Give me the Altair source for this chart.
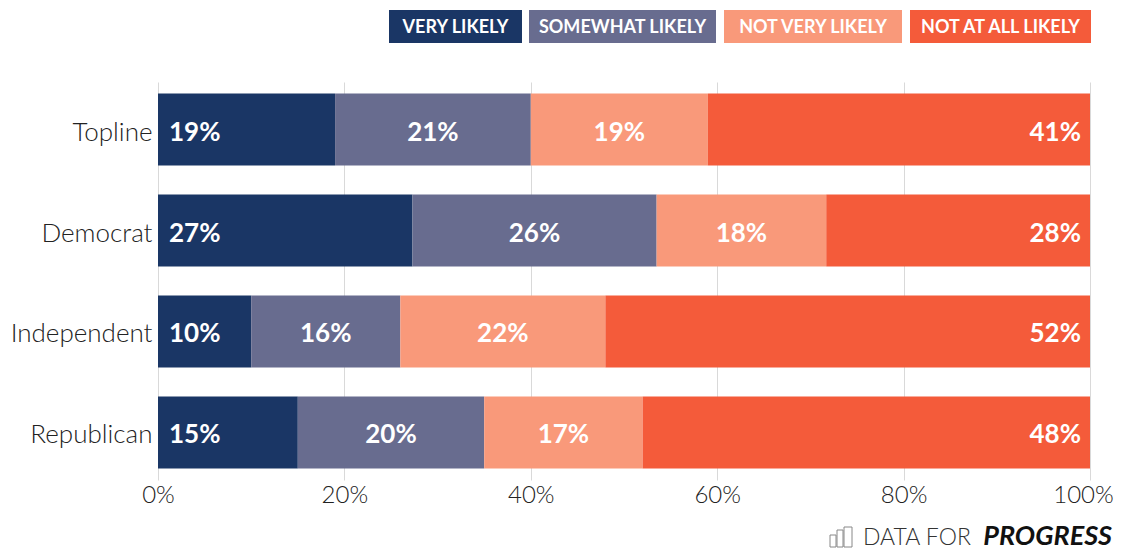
import altair as alt
import pandas as pd

groups = ["Topline", "Democrat", "Independent", "Republican"]
responses = ["VERY LIKELY", "SOMEWHAT LIKELY", "NOT VERY LIKELY", "NOT AT ALL LIKELY"]
colors = ["#1a3665", "#686c8f", "#f9997a", "#f45b3a"]
very = [19, 27.3, 10, 15]
somewhat = [21, 26.2, 16, 20]
notvery = [19, 18.2, 22, 17]
notatall = [41, 28.3, 52, 48]
labels_very = ["19%", "27%", "10%", "15%"]
labels_somewhat = ["21%", "26%", "16%", "20%"]
labels_notvery = ["19%", "18%", "22%", "17%"]
labels_notatall = ["41%", "28%", "52%", "48%"]
ticks = [0, 20, 40, 60, 80, 100]

rows = []
for i, g in enumerate(groups):
    start = 0
    series = [
        (very, labels_very), (somewhat, labels_somewhat),
        (notvery, labels_notvery), (notatall, labels_notatall),
    ]
    for k, (vals, labs) in enumerate(series):
        rows.append({"group": g, "resp": responses[k], "start": start, "end": start + vals[i],
                     "mid": start + vals[i] / 2, "label": labs[i], "order": k})
        start += vals[i]
df = pd.DataFrame(rows)

LEFT, TOP, W, H = 150, 74, 932, 398
TOTAL_W, TOTAL_H = 1107, 544
FONT = "Lato"

xs = alt.Scale(domain=[0, 100], nice=False, zero=True)
ys = alt.Scale(domain=groups, paddingInner=0.287, paddingOuter=0.114)
col = alt.Scale(domain=responses, range=colors)

bars = alt.Chart(df).mark_bar(stroke=None).encode(
    x=alt.X("start:Q", scale=xs, title=None, axis=alt.Axis(
        values=ticks, labelExpr="datum.value + '%'", grid=True, gridColor="#d9d9d9", gridWidth=1,
        domain=False, ticks=False, labelFont=FONT, labelFontWeight=300, labelFontSize=24,
        labelColor="#222222", labelPadding=3, labelFlush=False, labelBound=False,
        labelOffset=alt.expr("datum.value == 100 ? -7 : 0"))),
    x2="end:Q",
    y=alt.Y("group:N", scale=ys, sort=groups, title=None, axis=alt.Axis(
        domain=False, ticks=False, grid=False, labelFont=FONT, labelFontWeight=300, labelFontSize=26,
        labelColor="#222222", labelPadding=6, labelLimit=200, labelOffset=3)),
    color=alt.Color("resp:N", scale=col, legend=None),
)

def lab(resp, field, align, dx):
    return alt.Chart(df[df.resp == resp]).mark_text(
        font=FONT, fontWeight="bold", fontSize=26, color="white", align=align, dx=dx, baseline="middle", dy=3
    ).encode(x=alt.X(f"{field}:Q", scale=xs), y=alt.Y("group:N", scale=ys, sort=groups), text="label:N")

layers = [
    bars,
    lab(responses[0], "start", "left", 11),
    lab(responses[1], "mid", "center", 0),
    lab(responses[2], "mid", "center", 0),
    lab(responses[3], "end", "right", -9),
]

one = alt.Data(values=[{"a": 1}])
box_l = [389, 529, 724, 910]
box_r = [522, 716, 902, 1091]
for k, r in enumerate(responses):
    l, rr = box_l[k] - 8 - LEFT, box_r[k] - 8 - LEFT
    layers.append(alt.Chart(one).mark_rect(color=colors[k]).encode(
        x=alt.value(l), x2=alt.value(rr), y=alt.value(10 - 8 - TOP), y2=alt.value(43 - 8 - TOP)))
    layers.append(alt.Chart(one).mark_text(
        text=r, font=FONT, fontWeight="bold", fontSize=18, color="white", align="center", baseline="middle"
    ).encode(x=alt.value((l + rr) / 2), y=alt.value(28 - 8 - TOP)))

# footer wordmark
fy = 545 - 8 - TOP
layers.append(alt.Chart(one).mark_text(
    text="DATA FOR", font=FONT, fontWeight=300, fontSize=23, color="#333333", align="left", baseline="alphabetic"
).encode(x=alt.value(863 - 8 - LEFT), y=alt.value(fy)))
layers.append(alt.Chart(one).mark_text(
    text="PROGRESS", font=FONT, fontWeight="bold", fontStyle="italic", fontSize=27, color="#111111",
    align="right", baseline="alphabetic"
).encode(x=alt.value(1112 - 8 - LEFT), y=alt.value(fy)))
# footer icon
icon_l = [830, 837, 844]
icon_r = [836, 843, 852]
icon_t = [535, 530, 527]
for a, b, t in zip(icon_l, icon_r, icon_t):
    layers.append(alt.Chart(one).mark_rect(fill=None, stroke="#888888", strokeWidth=1).encode(
        x=alt.value(a - 8 - LEFT), x2=alt.value(b - 8 - LEFT),
        y=alt.value(t - 8 - TOP), y2=alt.value(547 - 8 - TOP)))

chart = alt.layer(*layers).properties(
    width=W, height=H,
    autosize=alt.AutoSizeParams(type="none"),
    padding={"left": LEFT, "top": TOP, "right": TOTAL_W - LEFT - W, "bottom": TOTAL_H - TOP - H},
    background="white",
).configure_view(stroke=None)

chart.save("out.html", embed_options={"renderer": "svg", "actions": False})
